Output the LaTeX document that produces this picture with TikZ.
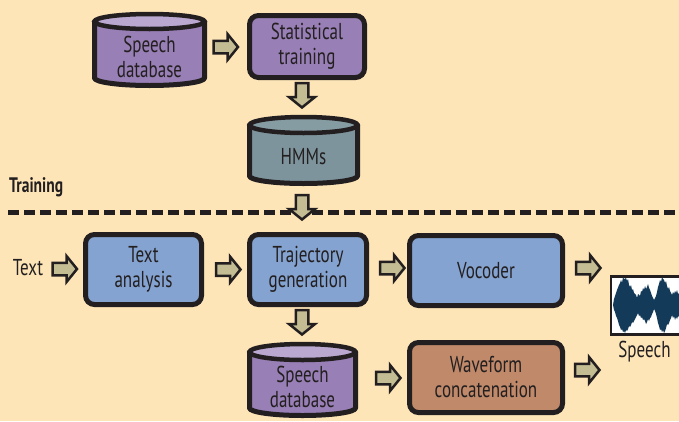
\documentclass[tikz,border=0pt]{standalone}
\usepackage{fontspec}
\setmainfont[FakeStretch=0.74]{PT Sans}
\definecolor{bg}{RGB}{253,229,184}
\definecolor{ink}{RGB}{35,31,32}
\definecolor{purp}{RGB}{152,127,181}
\definecolor{purptop}{RGB}{186,168,208}
\definecolor{blu}{RGB}{132,163,208}
\definecolor{hmm}{RGB}{126,148,156}
\definecolor{hmmtop}{RGB}{134,156,163}
\definecolor{brn}{RGB}{191,137,106}
\definecolor{arr}{RGB}{196,189,148}
\definecolor{wave}{RGB}{20,58,90}
\newcommand{\dfont}{\fontsize{23}{25}\selectfont}
\newcommand{\tfont}{\fontsize{21}{24}\selectfont}
\tikzset{
  box/.style={draw=ink, line width=5pt, rounded corners=9pt, text=ink, align=center, font=\dfont, inner sep=0pt},
  lbl/.style={text=ink, align=center, font=\dfont, inner sep=0pt},
  cylline/.style={draw=ink, line width=5pt, line join=round},
  barrow/.pic={\draw[fill=arr, draw=ink, line width=2.5pt, line join=miter]
     (-12.5,-6.25) -- (1.5,-6.25) -- (1.5,-13) -- (12,0) -- (1.5,13) -- (1.5,6.25) -- (-12.5,6.25) -- cycle;
     \coordinate (-c) at (0,0);}
}
\begin{document}
\begin{tikzpicture}[x=1pt,y=-1pt]
\useasboundingbox (0,0) rectangle (679,421);
\fill[bg] (0,0) rectangle (679,421);

% ---- Speech database (top)
\path[fill=purp, cylline] (94.5,21.5) -- (94.5,78) arc[start angle=180,end angle=0,x radius=55,y radius=7.5] -- (204.5,21.5) -- cycle;
\filldraw[fill=purptop, draw=ink, line width=4.5pt] (149.5,21.5) ellipse [x radius=55, y radius=7.5];
\node[lbl] (sdb1) at (149.5,57) {Speech\\database};

% ---- Statistical training
\node[box, fill=purp, minimum width=115pt, minimum height=62pt] (stat) at (307,46.5) {Statistical\\training};

% ---- HMMs
\path[fill=hmm, cylline] (249.5,125) -- (249.5,176) arc[start angle=180,end angle=0,x radius=54,y radius=7.5] -- (357.5,125) -- cycle;
\filldraw[fill=hmmtop, draw=ink, line width=4.5pt] (303.5,125) ellipse [x radius=54, y radius=8];
\node[lbl] (hmms) at (303.5,157) {HMMs};

% ---- Training label and dashed separator
\node[lbl, font=\tfont\bfseries, anchor=west] (train) at (9,187) {Training};
\draw[ink, line width=5pt, dash pattern=on 11pt off 5pt] (8,212) coordinate (dl) -- (685,212) coordinate (dr);

% ---- Synthesis row
\node[lbl] (text) at (28,268) {Text};
\node[box, fill=blu, minimum width=116pt, minimum height=70pt] (ta) at (143.5,269.5) {Text\\analysis};
\node[box, fill=blu, minimum width=117pt, minimum height=70pt] (traj) at (308,269.5) {Trajectory\\generation};
\node[box, fill=blu, minimum width=153pt, minimum height=70pt] (voc) at (486,270.5) {Vocoder};

% ---- Speech database (bottom)
\path[fill=purp, cylline] (249.5,352) -- (249.5,408) arc[start angle=180,end angle=0,x radius=53,y radius=7.5] -- (355.5,352) -- cycle;
\filldraw[fill=purptop, draw=ink, line width=4.5pt] (302.5,352) ellipse [x radius=53, y radius=8];
\node[lbl] (sdb2) at (302.5,387) {Speech\\database};

\node[box, fill=brn, minimum width=153pt, minimum height=70pt] (wc) at (486,377.5) {Waveform\\concatenation};

% ---- Waveform picture
\draw[fill=white, draw=ink, line width=2.5pt] (611,276.5) rectangle (695,334.5);
\begin{scope}
\clip (612.3,277.8) rectangle (679,333.2);
\fill[wave] (613,305)
  -- (614,299) -- (616,293) -- (617,290) -- (619,285) -- (620,283) -- (621,280) -- (622,283) -- (623,277) -- (624,279)
  -- (626,278) -- (627,281) -- (628,279) -- (629,285) -- (630,287) -- (631,285) -- (632,290) -- (633,289) -- (634,293)
  -- (636,295) -- (637,298) -- (638,294) -- (640,296) -- (641,291) -- (642,292) -- (643,288) -- (644,290) -- (645,286)
  -- (646,289) -- (647,287) -- (648,284) -- (649,288) -- (650,290) -- (651,293) -- (652,296) -- (653,298) -- (654,300)
  -- (655,298) -- (656,296) -- (657,292) -- (658,287) -- (659,284) -- (660,280) -- (661,282) -- (662,277) -- (663,279)
  -- (664,280) -- (665,283) -- (666,281) -- (667,286) -- (668,289) -- (669,287) -- (670,291) -- (671,293) -- (672,295)
  -- (673,292) -- (674,294) -- (675,291) -- (676,293) -- (677,290) -- (678,294) -- (680,292)
  -- (680,318)
  -- (678,316) -- (677,319) -- (676,317) -- (675,320) -- (674,316) -- (673,318) -- (672,315) -- (671,318) -- (670,320)
  -- (669,323) -- (668,325) -- (667,324) -- (666,328) -- (665,331) -- (664,333) -- (663,330) -- (662,332) -- (661,329)
  -- (660,330) -- (659,326) -- (658,323) -- (657,318) -- (656,314) -- (655,311) -- (654,309) -- (653,312) -- (652,314)
  -- (651,317) -- (650,318) -- (649,321) -- (648,319) -- (647,322) -- (646,324) -- (645,321) -- (644,319) -- (643,320)
  -- (642,317) -- (641,318) -- (640,315) -- (639,316) -- (638,313) -- (637,315) -- (636,317) -- (635,319) -- (634,321)
  -- (633,323) -- (632,322) -- (631,325) -- (630,327) -- (629,326) -- (628,329) -- (627,331) -- (626,330) -- (625,333)
  -- (624,331) -- (623,332) -- (622,329) -- (621,330) -- (620,327) -- (619,325) -- (618,321) -- (617,318) -- (616,316)
  -- (615,312) -- (614,310) -- cycle;
\end{scope}
\node[lbl] (speech) at (644.5,352) {Speech};

% ---- Block arrows
\pic (a1) at (226,47) {barrow};
\pic[rotate=-90] (a2) at (302,95.5) {barrow};
\pic[rotate=-90] (a3) at (302,207.5) {barrow};
\pic (a4) at (65,269) {barrow};
\pic (a5) at (228.5,269.5) {barrow};
\pic (a6) at (392.5,268) {barrow};
\pic (a7) at (588.5,268) {barrow};
\pic[rotate=-90] (a8) at (302,322.5) {barrow};
\pic (a9) at (388.5,378) {barrow};
\pic (a10) at (587.5,370) {barrow};
\end{tikzpicture}
\end{document}
